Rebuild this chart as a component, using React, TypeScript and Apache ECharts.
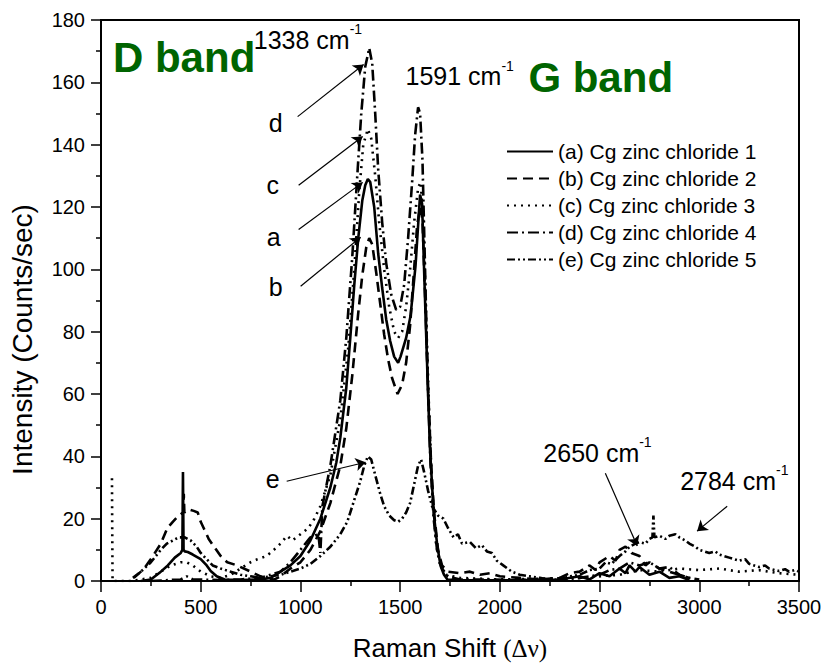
import React, { useEffect, useRef } from "react";
import * as echarts from "echarts";

const FONT = "Liberation Sans, Arial, sans-serif";

const seriesNames = [
  "(a) Cg zinc chloride 1",
  "(b) Cg zinc chloride 2",
  "(c) Cg zinc chloride 3",
  "(d) Cg zinc chloride 4",
  "(e) Cg zinc chloride 5",
];

const xTicks = { min: 0, max: 3500, interval: 500 };
const yTicks = { min: 0, max: 180, interval: 20 };

// (a) solid
const seriesA: [number, number][] = [
  [200, 0], [250, 0.5], [300, 3], [335, 5], [370, 7.5], [400, 9], [408, 10], [411, 35], [414, 10],
  [420, 9.5], [435, 9.3], [460, 8.5], [500, 7], [530, 5], [550, 3.2], [580, 1.5], [620, 0.5],
  [700, 0.3], [800, 0.5], [850, 1], [900, 3], [950, 5], [1000, 8], [1050, 13], [1100, 20],
  [1150, 30], [1180, 38], [1200, 46], [1230, 62], [1250, 78], [1270, 95], [1290, 110], [1310, 122],
  [1325, 127], [1338, 129], [1350, 128], [1370, 120], [1390, 105], [1410, 94], [1430, 84],
  [1450, 77], [1470, 72], [1490, 70], [1502, 72], [1530, 78], [1552, 85], [1577, 101], [1592, 116],
  [1600, 124], [1610, 121], [1620, 100], [1630, 80], [1640, 60], [1650, 42], [1668, 22],
  [1685, 12], [1702, 5], [1720, 2], [1737, 0.5], [1800, 0.3], [2000, 0.2], [2300, 0.5],
  [2400, 1.5], [2450, 0.5], [2500, 2.5], [2550, 1.5], [2600, 4], [2630, 2.5], [2650, 5],
  [2680, 3], [2700, 4.5], [2750, 2], [2800, 3], [2850, 1], [2900, 1.5], [2950, 0.3],
];

// (b) dashed
const seriesB: [number, number][] = [
  [165, 1], [200, 3], [217, 4], [260, 8], [300, 12], [333, 17], [360, 19], [390, 21], [413, 22],
  [415, 28], [418, 22], [440, 23], [465, 22.5], [485, 22], [500, 19], [517, 16.7], [540, 13.5],
  [567, 11], [600, 8], [633, 6], [683, 5], [750, 3], [800, 1.5], [833, 0.7], [870, 0.5],
  [900, 1.5], [950, 4], [1000, 6], [1050, 10], [1100, 16], [1150, 25], [1200, 37], [1230, 49],
  [1260, 66], [1290, 86], [1310, 98], [1330, 107], [1345, 110], [1360, 108], [1380, 99],
  [1400, 89], [1420, 79], [1440, 71], [1460, 65], [1487, 60], [1510, 63], [1530, 70],
  [1550, 82], [1570, 100], [1585, 114], [1600, 120], [1612, 116], [1625, 92], [1640, 62],
  [1655, 38], [1670, 22], [1690, 10], [1710, 5], [1740, 3], [1800, 2.5], [1850, 3], [1900, 2],
  [1950, 2.5], [2000, 1.5], [2100, 1], [2200, 0.5], [2300, 1], [2350, 2.5], [2400, 3],
  [2450, 5], [2480, 3.5], [2500, 6], [2550, 8], [2580, 6.5], [2600, 10], [2630, 11],
  [2660, 9], [2700, 8], [2730, 5], [2750, 6], [2800, 4], [2850, 3], [2900, 2], [2950, 1],
];

// (c) dotted
const seriesC: [number, number][] = [
  [55, 33], [56, 20], [57, 10], [58, 0], [150, 0], [250, 1], [300, 3], [350, 5], [400, 6],
  [430, 6], [460, 5], [500, 3], [550, 1.5], [600, 1], [650, 2], [700, 4], [750, 6], [785, 7],
  [830, 8], [867, 10], [900, 12], [933, 14.5], [960, 13], [1000, 15], [1040, 17], [1070, 20],
  [1100, 24], [1150, 34], [1200, 52], [1240, 75], [1270, 100], [1295, 125], [1315, 140],
  [1338, 145], [1355, 142], [1375, 130], [1395, 115], [1420, 100], [1445, 88], [1470, 80],
  [1490, 78], [1510, 80], [1530, 88], [1550, 100], [1570, 115], [1590, 126], [1602, 128],
  [1615, 118], [1630, 85], [1645, 55], [1660, 30], [1680, 12], [1700, 5], [1730, 2],
  [1800, 1], [2000, 0.5], [2400, 1], [2600, 2], [2700, 3.5], [2800, 3], [2900, 4], [3000, 3.5],
  [3100, 4], [3200, 3], [3300, 3.5], [3400, 2.5], [3500, 2],
];

// (d) dash-dot
const seriesD: [number, number][] = [
  [250, 0], [400, 0.5], [430, 1.5], [460, 0.5], [600, 0.3], [700, 0.5], [800, 1], [900, 3],
  [950, 6], [1000, 10], [1050, 14], [1090, 15], [1100, 9], [1110, 24], [1150, 37], [1200, 58],
  [1230, 78], [1260, 104], [1285, 130], [1305, 150], [1325, 165], [1345, 171], [1360, 166],
  [1375, 150], [1390, 132], [1410, 115], [1430, 102], [1455, 92], [1480, 87], [1500, 88],
  [1520, 95], [1540, 110], [1560, 128], [1575, 143], [1590, 152], [1600, 150], [1612, 135],
  [1625, 100], [1638, 65], [1652, 38], [1668, 20], [1685, 10], [1710, 4], [1740, 1.5],
  [1800, 0.5], [2300, 0.3], [2400, 1], [2500, 2], [2550, 3.5], [2600, 4], [2650, 6],
  [2700, 5], [2750, 6], [2800, 4], [2850, 4.5], [2900, 2], [2950, 1], [3000, 0.5],
];

// (e) dash-dot-dot
const seriesE: [number, number][] = [
  [160, 1], [200, 3], [250, 6], [300, 10], [330, 12], [360, 13], [390, 14], [420, 14],
  [450, 13], [480, 11], [500, 9], [530, 7], [560, 5], [600, 4], [650, 3], [700, 2], [750, 1.5],
  [800, 1], [850, 1.5], [900, 2], [950, 3], [1000, 4], [1050, 5.5], [1100, 8], [1150, 11],
  [1200, 15], [1235, 19], [1270, 26], [1300, 32], [1320, 37], [1338, 40], [1355, 39],
  [1375, 34], [1400, 28], [1420, 24], [1445, 21], [1470, 19.5], [1490, 19], [1510, 20],
  [1530, 22], [1550, 25], [1570, 31], [1590, 37], [1605, 39], [1620, 35], [1640, 29],
  [1660, 24], [1690, 21], [1717, 20], [1740, 17], [1768, 14], [1790, 15], [1810, 12],
  [1850, 12.5], [1880, 10.5], [1910, 11.5], [1935, 9.5], [1960, 9], [1985, 6.5], [2017, 5],
  [2060, 3], [2100, 2], [2150, 1.5], [2200, 1], [2250, 0.3], [2300, 0.5], [2350, 1.5],
  [2400, 2], [2450, 3.5], [2500, 4], [2530, 6], [2560, 5.5], [2600, 8], [2630, 9.5],
  [2650, 11], [2680, 12], [2700, 12.5], [2730, 12], [2750, 13.5], [2765, 14], [2770, 21],
  [2775, 14], [2800, 14.5], [2830, 13.5], [2850, 14.5], [2880, 15], [2900, 14], [2930, 13],
  [2950, 12], [2980, 11], [3000, 10], [3050, 9], [3080, 9.5], [3100, 8.5], [3150, 7.5],
  [3200, 6.5], [3230, 7], [3250, 5.5], [3300, 4.5], [3330, 5], [3350, 4], [3400, 3.2],
  [3430, 3.8], [3450, 3], [3480, 3.5], [3500, 3],
];

const lineTypes: any[] = ["solid", [10, 6], [2, 5], [11, 4, 2, 4], [8, 3, 2, 3, 2, 3]];

// annotation arrows in data coordinates [x1, y1, x2, y2]
const arrows: number[][] = [
  [986, 149, 1317, 165.7],
  [991, 127, 1312, 142.6],
  [991, 112.8, 1312, 127.9],
  [1001, 94.6, 1302, 110.3],
  [931, 32, 1327, 38.1],
  [2529, 34.6, 2689, 11.2],
  [3140, 24, 2989, 16],
];

// annotation labels in data coordinates
const peakLabels = [
  { value: "1338", x: 766, y: 174.4 },
  { value: "1591", x: 1527, y: 162.7 },
  { value: "2650", x: 2218, y: 42 },
  { value: "2784", x: 2904, y: 33 },
];
const letterLabels = [
  { text: "d", x: 876, y: 146.8 },
  { text: "c", x: 861, y: 126.9 },
  { text: "a", x: 866, y: 110.3 },
  { text: "b", x: 876, y: 94.2 },
  { text: "e", x: 861, y: 32.7 },
];
const bandLabels = [
  { text: "D band", x: 60, y: 168 },
  { text: "G band", x: 2143, y: 161.5 },
];

export default function App() {
  const ref = useRef<HTMLDivElement>(null);
  useEffect(() => {
    if (!ref.current) return;
    const chart = echarts.init(ref.current, undefined, { renderer: "svg" });
    const allData = [seriesA, seriesB, seriesC, seriesD, seriesE];
    chart.setOption({
      animation: false,
      backgroundColor: "#fff",
      grid: {
        left: 100,
        right: 26,
        top: 20,
        bottom: 84,
        show: true,
        borderColor: "#000",
        borderWidth: 2,
      },
      legend: {
        orient: "vertical",
        left: 501,
        top: 136,
        itemWidth: 46,
        itemHeight: 14,
        itemGap: 6,
        data: seriesNames,
        itemStyle: { color: "rgba(0,0,0,0)", borderWidth: 0, opacity: 0 },
        textStyle: { fontFamily: FONT, fontSize: 21, color: "#000", lineHeight: 20 },
      },
      xAxis: {
        type: "value",
        min: xTicks.min,
        max: xTicks.max,
        interval: xTicks.interval,
        name: "{a|Raman Shift }{b|(Δν)}",
        nameLocation: "middle",
        nameGap: 54,
        nameTextStyle: {
          rich: {
            a: { fontFamily: FONT, fontSize: 26, color: "#000" },
            b: { fontFamily: "Liberation Serif, Times New Roman, serif", fontSize: 25, color: "#000" },
          },
        },
        axisLine: { lineStyle: { color: "#000", width: 2 } },
        axisTick: { length: 11, lineStyle: { color: "#000", width: 1.5 } },
        minorTick: { show: true, splitNumber: 2, length: 5, lineStyle: { color: "#000", width: 1.5 } },
        splitLine: { show: false },
        axisLabel: {
          margin: 16,
          fontFamily: FONT,
          fontSize: 20,
          color: "#000",
          formatter: (v: number) => String(v),
        },
      },
      yAxis: {
        type: "value",
        min: yTicks.min,
        max: yTicks.max,
        interval: yTicks.interval,
        name: "Intensity (Counts/sec)",
        nameLocation: "middle",
        nameGap: 65,
        nameTextStyle: { fontFamily: FONT, fontSize: 28, color: "#000", padding: [0, 78, 0, 0] },
        axisLine: { lineStyle: { color: "#000", width: 2 } },
        axisTick: { length: 10, lineStyle: { color: "#000", width: 1.5 } },
        minorTick: { show: true, splitNumber: 2, length: 5, lineStyle: { color: "#000", width: 1.5 } },
        splitLine: { show: false },
        axisLabel: {
          margin: 16,
          fontFamily: FONT,
          fontSize: 20,
          color: "#000",
          formatter: (v: number) => String(v),
        },
      },
      series: allData.map((d, i) => ({
        name: seriesNames[i],
        type: "line",
        data: d,
        symbol: "none",
        lineStyle: { color: "#000", width: 2.6, type: lineTypes[i] },
        itemStyle: { color: "#000" },
        z: 2,
        markLine:
          i === 0
            ? {
                silent: true,
                symbol: ["none", "arrow"],
                symbolSize: 10,
                label: { show: false },
                lineStyle: { color: "#000", width: 1.2, type: "solid" },
                data: arrows.map((a) => [
                  { coord: [a[0], a[1]] },
                  { coord: [a[2], a[3]] },
                ]),
              }
            : undefined,
      })),
    });

    const px = (x: number, y: number) => chart.convertToPixel({ gridIndex: 0 }, [x, y]) as number[];
    const graphics: any[] = [];
    bandLabels.forEach((b) => {
      const p = px(b.x, b.y);
      graphics.push({
        type: "text",
        x: p[0],
        y: p[1],
        style: {
          text: b.text,
          fontFamily: FONT,
          fontSize: 42,
          fontWeight: "bold",
          fill: "#006400",
          align: "left",
          verticalAlign: "middle",
        },
      });
    });
    peakLabels.forEach((l) => {
      const p = px(l.x, l.y);
      graphics.push({
        type: "text",
        x: p[0],
        y: p[1],
        style: {
          text: `{n|${l.value} cm}{s|-1}`,
          align: "left",
          verticalAlign: "middle",
          rich: {
            n: { fontFamily: FONT, fontSize: 25, fill: "#000", lineHeight: 30, verticalAlign: "bottom" },
            s: { fontFamily: FONT, fontSize: 14, fill: "#000", verticalAlign: "top", lineHeight: 14 },
          },
        },
      });
    });
    letterLabels.forEach((l) => {
      const p = px(l.x, l.y);
      graphics.push({
        type: "text",
        x: p[0],
        y: p[1],
        style: {
          text: l.text,
          fontFamily: FONT,
          fontSize: 25,
          fill: "#000",
          align: "center",
          verticalAlign: "middle",
        },
      });
    });
    chart.setOption({ graphic: graphics });

    return () => chart.dispose();
  }, []);
  return (
    <div
      ref={ref}
      style={{ position: "absolute", left: 0, top: 0, width: 825, height: 666 }}
    />
  );
}
